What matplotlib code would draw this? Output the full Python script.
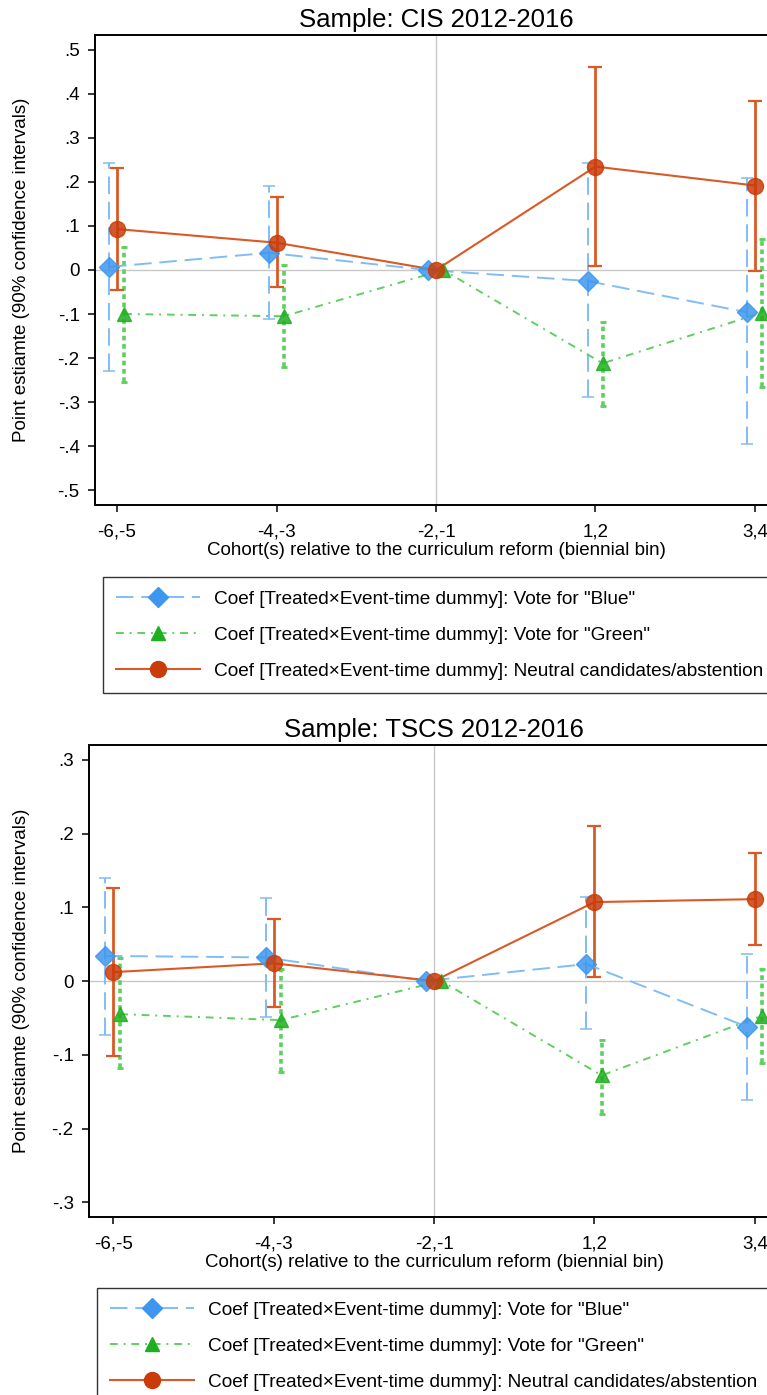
import numpy as np
import matplotlib
matplotlib.use('Agg')
import matplotlib.pyplot as plt
from matplotlib.lines import Line2D

plt.rcParams['font.family'] = ['Liberation Sans', 'DejaVu Sans']

# --- data -------------------------------------------------------------------
bins = ['-6,-5', '-4,-3', '-2,-1', '1,2', '3,4']
nan = np.nan

cis_blue = [0.007, 0.039, 0.0, -0.025, -0.096]
cis_blue_lo = [-0.230, -0.111, nan, -0.289, -0.395]
cis_blue_hi = [0.243, 0.191, nan, 0.243, 0.208]
cis_green = [-0.100, -0.105, 0.0, -0.212, -0.097]
cis_green_lo = [-0.254, -0.220, nan, -0.310, -0.265]
cis_green_hi = [0.053, 0.012, nan, -0.119, 0.070]
cis_orange = [0.093, 0.062, 0.0, 0.235, 0.192]
cis_orange_lo = [-0.045, -0.038, nan, 0.008, -0.002]
cis_orange_hi = [0.231, 0.165, nan, 0.462, 0.384]

ts_blue = [0.034, 0.032, 0.0, 0.023, -0.062]
ts_blue_lo = [-0.073, -0.049, nan, -0.065, -0.161]
ts_blue_hi = [0.140, 0.113, nan, 0.114, 0.037]
ts_green = [-0.045, -0.053, 0.0, -0.128, -0.047]
ts_green_lo = [-0.118, -0.123, nan, -0.180, -0.111]
ts_green_hi = [0.031, 0.016, nan, -0.080, 0.016]
ts_orange = [0.012, 0.024, 0.0, 0.107, 0.111]
ts_orange_lo = [-0.102, -0.035, nan, 0.005, 0.049]
ts_orange_hi = [0.126, 0.084, nan, 0.210, 0.174]

cis_yticks = [0.5, 0.4, 0.3, 0.2, 0.1, 0, -0.1, -0.2, -0.3, -0.4, -0.5]
cis_ylabels = ['.5', '.4', '.3', '.2', '.1', '0', '-.1', '-.2', '-.3', '-.4', '-.5']
ts_yticks = [0.3, 0.2, 0.1, 0, -0.1, -0.2, -0.3]
ts_ylabels = ['.3', '.2', '.1', '0', '-.1', '-.2', '-.3']

labels = ['Coef [Treated\u00d7Event-time dummy]: Vote for "Blue"',
          'Coef [Treated\u00d7Event-time dummy]: Vote for "Green"',
          'Coef [Treated\u00d7Event-time dummy]: Neutral candidates/abstention']

# --- styles -----------------------------------------------------------------
BLUE_L, BLUE_M = '#80bdf7', '#3d97ee'
GREEN_L, GREEN_M = '#5fd05f', '#1fae1f'
ORANGE_L, ORANGE_M = '#d95a25', '#c93c0a'
BLUE_DASH = (0, (9, 4))
GREEN_DASH = (0, (4, 3, 1, 3))


def draw_series(ax, x, y, lo, hi, color_l, color_m, marker, ms, ls, lw,
                ci_ls, ci_lw, capsize):
    y = np.array(y)
    lo = np.array(lo)
    hi = np.array(hi)
    ok = ~np.isnan(lo)
    eb = ax.errorbar(x[ok], y[ok], yerr=[y[ok] - lo[ok], hi[ok] - y[ok]],
                     fmt='none', ecolor=color_l, elinewidth=ci_lw,
                     capsize=capsize, capthick=ci_lw * 0.8, zorder=2)
    eb[2][0].set_linestyle(ci_ls)
    ax.plot(x, y, color=color_l, linestyle=ls, linewidth=lw, zorder=3)
    ax.plot(x, y, linestyle='none', marker=marker, markersize=ms,
            markerfacecolor=color_m, markeredgecolor=color_m, alpha=0.85,
            zorder=4)


def draw_panel(ax, title, blue, green, orange, yticks, ylabels, ylim, xlim,
               ylabelpad):
    x = np.arange(len(bins))
    ax.axvline(2, color='#c8c8c8', linewidth=1.0, zorder=1)
    ax.axhline(0, color='#c8c8c8', linewidth=1.0, zorder=1)
    draw_series(ax, x - 0.05, *blue, BLUE_L, BLUE_M, 'D', 10, BLUE_DASH, 1.4,
                BLUE_DASH, 1.4, 4.3)
    draw_series(ax, x + 0.045, *green, GREEN_L, GREEN_M, '^', 10, GREEN_DASH,
                1.4, (0, (1.3, 1.0)), 2.6, 2.2)
    draw_series(ax, x, *orange, ORANGE_L, ORANGE_M, 'o', 11.5, '-', 1.5,
                '-', 2.0, 4.8)

    ax.set_xlim(*xlim)
    ax.set_ylim(*ylim)
    ax.set_xticks(x)
    ax.set_xticklabels(bins)
    ax.set_yticks(yticks)
    ax.set_yticklabels(ylabels)
    ax.spines['right'].set_visible(False)
    for side in ('left', 'bottom', 'top'):
        ax.spines[side].set_linewidth(1.4)
    ax.tick_params(axis='both', length=5, width=1.1, labelsize=13.5, pad=6)
    ax.tick_params(axis='x', pad=8.5)
    ax.set_title(title, fontsize=18.5, pad=6)
    ax.set_xlabel('Cohort(s) relative to the curriculum reform (biennial bin)',
                  fontsize=13.5, labelpad=1)
    ax.set_ylabel('Point estiamte (90% confidence intervals)', fontsize=13.5,
                  labelpad=ylabelpad)


def add_legend(fig, x0, y0):
    W, H = 767, 1395
    handles = [
        Line2D([0], [0], color=BLUE_L, linestyle=BLUE_DASH, linewidth=1.4,
               marker='D', markersize=10, markerfacecolor=BLUE_M,
               markeredgecolor=BLUE_M),
        Line2D([0], [0], color=GREEN_L, linestyle=GREEN_DASH, linewidth=1.4,
               marker='^', markersize=10, markerfacecolor=GREEN_M,
               markeredgecolor=GREEN_M),
        Line2D([0], [0], color=ORANGE_L, linestyle='-', linewidth=1.5,
               marker='o', markersize=11.5, markerfacecolor=ORANGE_M,
               markeredgecolor=ORANGE_M),
    ]
    leg = fig.legend(handles, labels, loc='upper left',
                     bbox_to_anchor=(x0 / W, 1 - y0 / H), fontsize=13.7,
                     frameon=True, fancybox=False, handlelength=4.4,
                     labelspacing=0.98, borderpad=0.7, handletextpad=0.75,
                     borderaxespad=0)
    leg.get_frame().set_edgecolor('black')
    leg.get_frame().set_linewidth(1.0)


W, H = 767, 1395
fig = plt.figure(figsize=(W / 100, H / 100), dpi=100)
fig.patch.set_facecolor('white')

ax1 = fig.add_axes([95 / W, 1 - 505 / H, 682 / W, 470 / H])
draw_panel(ax1, 'Sample: CIS 2012-2016',
           (cis_blue, cis_blue_lo, cis_blue_hi),
           (cis_green, cis_green_lo, cis_green_hi),
           (cis_orange, cis_orange_lo, cis_orange_hi),
           cis_yticks, cis_ylabels, (-0.534, 0.534), (-0.138, 4.138), 20)
add_legend(fig, 103, 577)

ax2 = fig.add_axes([89 / W, 1 - 1217 / H, 690 / W, 472 / H])
draw_panel(ax2, 'Sample: TSCS 2012-2016',
           (ts_blue, ts_blue_lo, ts_blue_hi),
           (ts_green, ts_green_lo, ts_green_hi),
           (ts_orange, ts_orange_lo, ts_orange_hi),
           ts_yticks, ts_ylabels, (-0.32, 0.32), (-0.15, 4.15), 15.5)
add_legend(fig, 97, 1288)

fig.savefig('out.png', dpi=100, facecolor='white')
